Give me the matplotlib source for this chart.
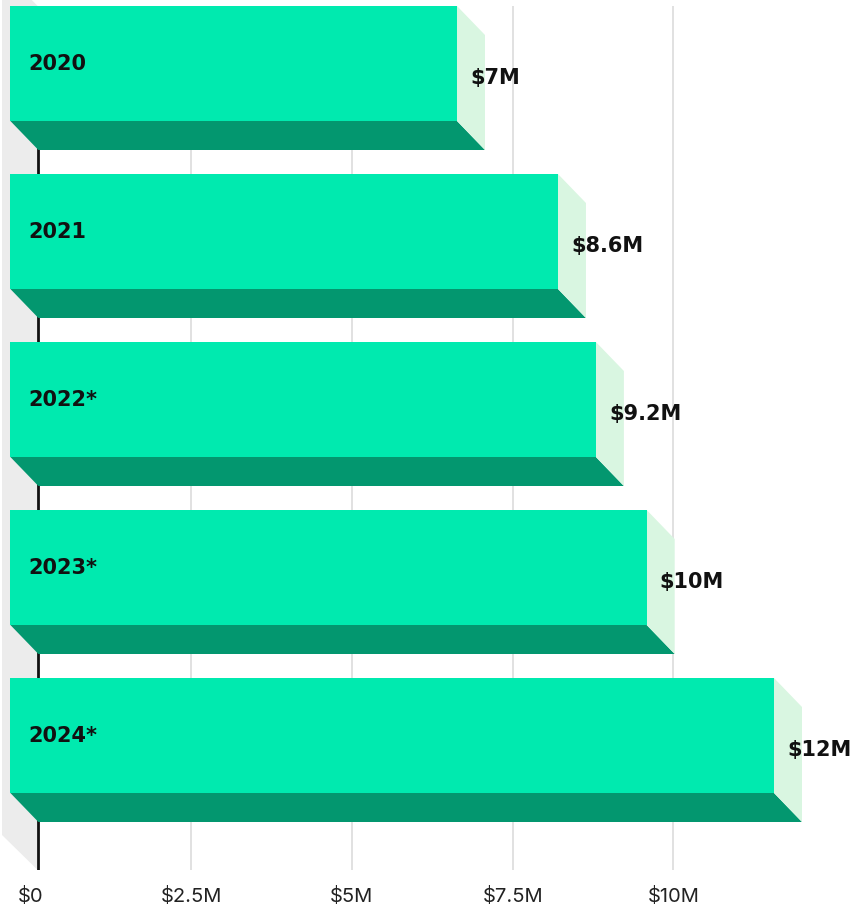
import matplotlib
matplotlib.use("Agg")
import matplotlib.pyplot as plt

# data
years = ["2020", "2021", "2022*", "2023*", "2024*"]
values = [7.07, 8.64, 9.23, 10.02, 12.0]          # $M
value_labels = ["$7M", "$8.6M", "$9.2M", "$10M", "$12M"]
tick_vals = [0, 2.5, 5, 7.5, 10]
tick_labels = ["$0", "$2.5M", "$5M", "$7.5M", "$10M"]

# layout (y in pixel-like units from the top, x in $M)
PX = 64.3                 # pixels per $M
pitch = 168
front_h = 115
dy = 29                   # depth, vertical
dx = 28 / PX              # depth, horizontal
front_left = -20 / PX
first_top = 6

c_front = "#00EAAF"
c_bottom = "#03976F"
c_side = "#D9F6E1"
c_wall = "#ECECEC"

fig = plt.figure(figsize=(8.59, 9.10), dpi=100)
ax = fig.add_axes([0, 40 / 910, 1, 864 / 910])
ax.set_xlim(-30.4 / PX, 828.6 / PX)
ax.set_ylim(870, 6)

# left wall
wx0 = -28.4 / PX
wx1 = 7.3 / PX
ax.fill([wx0, wx1, wx1, wx0], [-30, 6, 870, 835], color=c_wall, lw=0,
        zorder=0, clip_on=False)

# grid and axis line
for t in tick_vals[1:]:
    ax.axvline(t, color="#DEDEDE", lw=1.3, zorder=0.5)
ax.axvline(wx1, color="#111111", lw=2, zorder=1)

tops = [first_top + pitch * i for i in range(len(values))]
centers = [t + front_h / 2 for t in tops]
front_w = [v - dx - front_left for v in values]

ax.barh(centers, front_w, height=front_h, left=front_left, color=c_front,
        lw=0, zorder=3)

for top, v, yl, vl in zip(tops, values, years, value_labels):
    xf = v - dx
    bot = top + front_h
    # bottom face
    ax.fill([front_left, xf, v, front_left + dx], [bot, bot, bot + dy, bot + dy],
            color=c_bottom, lw=0, zorder=2)
    # side face
    ax.fill([xf, v, v, xf], [top, top + dy, bot + dy, bot],
            color=c_side, lw=0, zorder=2)
    ax.text(-2.4 / PX, top + front_h / 2 + 0.5, yl, ha="left",
            va="center", fontsize=15, fontweight="bold",
            family="DejaVu Sans", color="#111111", zorder=4)
    ax.text(xf + 13 / PX, top + (front_h + dy) / 2, vl, ha="left",
            va="center", fontsize=15, fontweight="bold",
            family="DejaVu Sans", color="#111111", zorder=4)

ax.set_xticks(tick_vals)
ax.set_xticklabels(tick_labels, family="Inter", fontsize=14.5, color="#222222")
ax.tick_params(axis="x", length=0, pad=12)
ax.get_xticklabels()[0].set_x(3.6 / PX)
ax.set_yticks([])
for s in ax.spines.values():
    s.set_visible(False)

fig.savefig("out.png", dpi=100)
